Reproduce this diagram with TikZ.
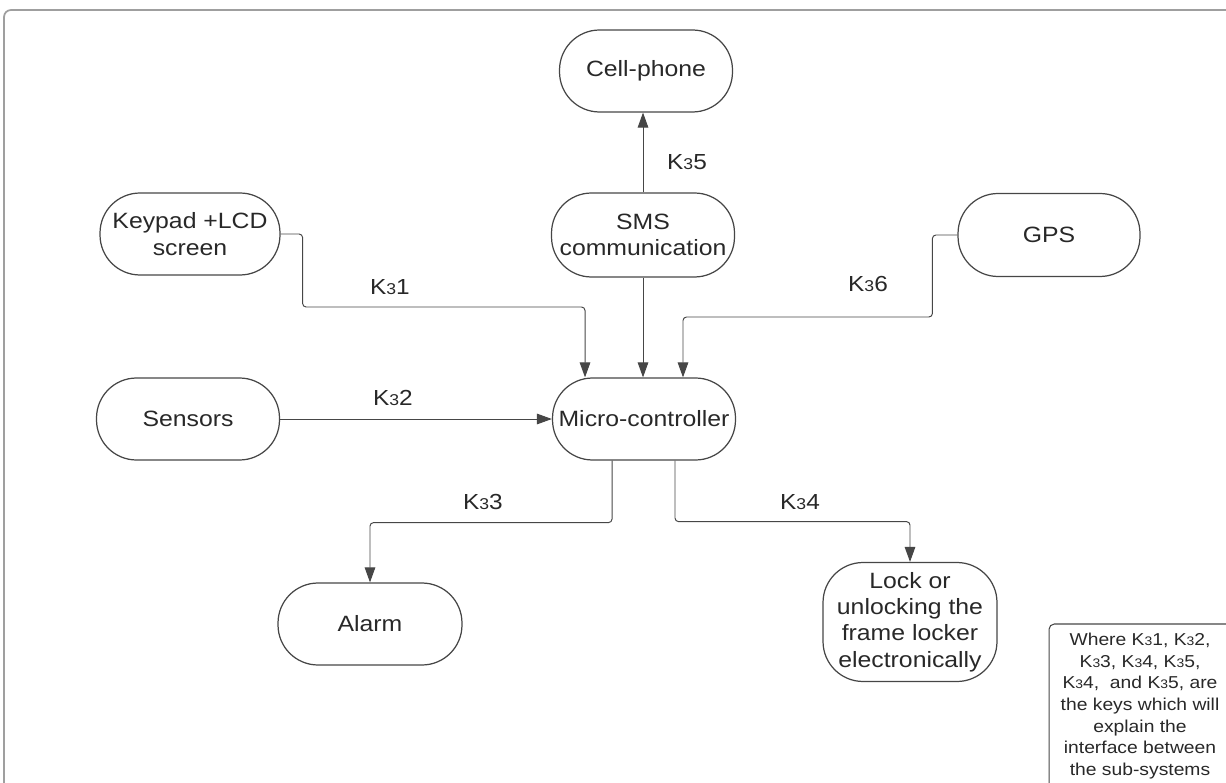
\documentclass[tikz,border=0pt]{standalone}
\usepackage{fontspec}
\setmainfont{Liberation Sans}[FakeStretch=1.12]
\usetikzlibrary{arrows.meta}
\definecolor{cLine}{RGB}{70,70,70}
\definecolor{cText}{RGB}{40,40,40}
\newcommand{\kkey}[1]{K\scalebox{0.72}{3}#1}

\begin{document}
\begin{tikzpicture}[x=0.02cm,y=-0.02cm,
  blk/.style={draw=cLine,line width=0.7pt,rounded corners=0.8cm,align=center,text=cText,inner sep=2pt,font=\fontsize{12.6}{15}\selectfont},
  link/.style={draw=cLine,line width=0.55pt,rounded corners=2pt},
  tip/.style={-{Triangle[length=8.5pt,width=6pt]}},
  lbl/.style={text=cText,font=\fontsize{12.4}{14}\selectfont},
  legend/.style={draw=cLine,line width=0.6pt,rounded corners=3pt,align=center,text=cText,inner sep=2pt,minimum width=3.64cm,minimum height=3.28cm,font=\fontsize{9.8}{12.3}\selectfont}]
\useasboundingbox (0,0) rectangle (1226,783);
\draw[gray!75,line width=1pt,rounded corners=4pt] (4,10) rectangle (1250,810);
\node[blk,minimum width=3.46cm,minimum height=1.64cm] (cell) at (646,71) {Cell-phone};
\node[blk,minimum width=3.66cm,minimum height=1.68cm] (sms) at (643,235) {SMS\\communication};
\node[blk,minimum width=3.6cm,minimum height=1.64cm] (keypad) at (190,234) {Keypad +LCD\\screen};
\node[blk,minimum width=3.64cm,minimum height=1.66cm] (gps) at (1049,235) {GPS};
\node[blk,minimum width=3.66cm,minimum height=1.64cm] (sensors) at (188,419) {Sensors};
\node[blk,minimum width=3.66cm,minimum height=1.64cm] (micro) at (644,419) {Micro-controller};
\node[blk,minimum width=3.68cm,minimum height=1.64cm] (alarm) at (370,624) {Alarm};
\node[blk,minimum width=3.48cm,minimum height=2.38cm] (lock) at (910,622) {Lock or\\unlocking the\\frame locker\\electronically};
\node[legend] (note) at (1140,706) {Where \kkey1, \kkey2,\\\kkey3, \kkey4, \kkey5,\\\kkey4,\ \ and \kkey5, are\\the keys which will\\explain the\\interface between\\the sub-systems};
\draw[link,tip] (sms.north) -- (sms.north |- cell.south);
\draw[link,tip] (sms.south) -- (sms.south |- micro.north);
\draw[link,tip] (keypad.east) -| ++(22,73) -| ([xshift=-1.18cm]micro.north);
\draw[link,tip] (gps.west) -| ++(-25,82) -| ([xshift=0.78cm]micro.north);
\draw[link,tip] (sensors.east) -- (micro.west);
\draw[link,tip] ([xshift=-0.64cm]micro.south) -- ++(0,62) -| (alarm.north);
\draw[link,tip] ([xshift=0.62cm]micro.south) -- ++(0,61) -| (lock.north);
\node[lbl] (k1) at (390,287) {\kkey1};
\node[lbl] (k2) at (393,398) {\kkey2};
\node[lbl] (k3) at (483,502) {\kkey3};
\node[lbl] (k4) at (800,502) {\kkey4};
\node[lbl] (k5) at (687,162) {\kkey5};
\node[lbl] (k6) at (868,284) {\kkey6};
\end{tikzpicture}
\end{document}
